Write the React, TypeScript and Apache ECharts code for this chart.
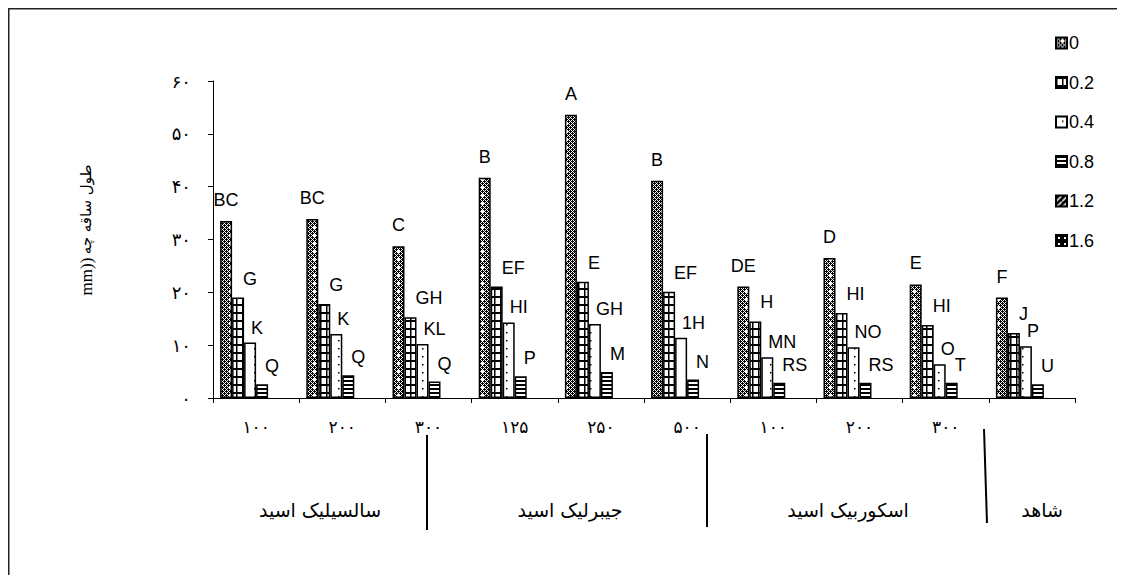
import React, { useEffect, useRef } from "react";
import * as echarts from "echarts";

const categories = ["۱۰۰", "۲۰۰", "۳۰۰", "۱۲۵", "۲۵۰", "۵۰۰", "۱۰۰", "۲۰۰", "۳۰۰", ""];
const seriesNames = ["0", "0.2", "0.4", "0.8", "1.2", "1.6"];
const values0 = [33.5, 33.9, 28.7, 41.7, 53.6, 41.1, 21.1, 26.5, 21.5, 19.0];
const values02 = [19.0, 17.8, 15.3, 21.1, 22.0, 20.1, 14.5, 16.1, 13.8, 12.3];
const values04 = [10.5, 12.1, 10.2, 14.3, 14.0, 11.4, 7.7, 9.6, 6.4, 9.8];
const values08 = [2.6, 4.3, 3.1, 4.1, 4.9, 3.5, 2.9, 2.9, 2.9, 2.6];
const values12: number[] = [];
const values16: number[] = [];
const letters0 = ["BC", "BC", "C", "B", "A", "B", "DE", "D", "E", "F"];
const letters02 = ["G", "G", "GH", "EF", "E", "EF", "H", "HI", "HI", "J"];
const letters04 = ["K", "K", "KL", "HI", "GH", "1H", "MN", "NO", "O", "P"];
const letters08 = ["Q", "Q", "Q", "P", "M", "N", "RS", "RS", "T", "U"];
const yTickLabels = ["۰", "۱۰", "۲۰", "۳۰", "۴۰", "۵۰", "۶۰"];
const groupNames = ["سالسیلیک اسید", "جیبرلیک اسید", "اسکوربیک اسید", "شاهد"];
const yTitleUnit = "mm))";
const yTitleText = "طول ساقه چه";

function makePattern(w: number, h: number, bg: string, draw: (ctx: CanvasRenderingContext2D) => void) {
  const c = document.createElement("canvas");
  c.width = w;
  c.height = h;
  const ctx = c.getContext("2d")!;
  ctx.fillStyle = bg;
  ctx.fillRect(0, 0, w, h);
  draw(ctx);
  return { image: c, repeat: "repeat" } as any;
}

const arabicFont = "DejaVu Sans, sans-serif";
const latinFont = "Liberation Sans, Arial, sans-serif";

export default function App() {
  const ref = useRef<HTMLDivElement>(null);
  useEffect(() => {
    if (!ref.current) return;
    const chart = echarts.init(ref.current, null, { renderer: "svg" });

    const p0 = makePattern(12, 8, "#fff", (ctx) => {
      ctx.fillStyle = "#000";
      for (let x = 0; x < 12; x++)
        for (let y = 0; y < 8; y++) if ((x + y) % 2 === 0 || (x % 2 === 0 && y % 2 === 1 && (x + y) % 4 === 1)) ctx.fillRect(x, y, 1, 1);
      ctx.fillStyle = "#fff";
      ctx.fillRect(5, 3, 3, 1);
      ctx.fillRect(6, 2, 1, 3);
    });
    const p02 = makePattern(6, 8, "#fff", (ctx) => {
      ctx.fillStyle = "#000";
      ctx.fillRect(0, 0, 6, 2);
      ctx.fillRect(0, 0, 1.5, 8);
    });
    const p04 = makePattern(12, 8, "#fff", (ctx) => {
      ctx.fillStyle = "#000";
      ctx.fillRect(6, 4, 1.5, 1.5);
    });
    const p08 = makePattern(2, 4, "#fff", (ctx) => {
      ctx.fillStyle = "#000";
      ctx.fillRect(0, 0, 2, 2);
    });
    const p12 = makePattern(6, 6, "#000", (ctx) => {
      ctx.strokeStyle = "#fff";
      ctx.lineWidth = 1.5;
      ctx.beginPath();
      ctx.moveTo(0, 6);
      ctx.lineTo(6, 0);
      ctx.stroke();
    });
    const p16 = makePattern(6, 6, "#000", (ctx) => {
      ctx.fillStyle = "#fff";
      ctx.fillRect(2, 2, 2, 2);
    });

    const labelBase = {
      show: true,
      position: "top",
      color: "#000",
      fontSize: 18,
      fontFamily: latinFont,
    };

    const mk = (name: string, data: number[], pattern: any, letters: string[], lab: any) => ({
      name,
      type: "bar",
      data,
      barWidth: 12,
      barGap: "0%",
      itemStyle: { color: pattern, borderColor: "#000", borderWidth: 1.5 },
      label: {
        ...labelBase,
        ...lab,
        formatter: (p: any) => letters[p.dataIndex] ?? "",
      },
    });

    const groupText = (x: number, text: string) => ({
      type: "text",
      x,
      y: 502,
      style: { text, fill: "#000", fontSize: 19, fontFamily: arabicFont, fontWeight: "normal", align: "center", verticalAlign: "middle" },
    });

    chart.setOption({
      animation: false,
      backgroundColor: "#fff",
      grid: { left: 205, right: 42, top: 73, bottom: 177 },
      legend: {
        orient: "vertical",
        left: 1042,
        top: 21,
        itemWidth: 11,
        itemHeight: 11,
        itemGap: 21.5,
        selectedMode: false,
        icon: "rect",
        data: seriesNames,
        textStyle: {
          fontSize: 18,
          lineHeight: 18,
          color: "#000",
          fontFamily: latinFont,
          padding: [0, 0, 0, -3],
        },
      },
      xAxis: {
        type: "category",
        data: categories,
        axisLine: { lineStyle: { color: "#000", width: 1 } },
        axisTick: { show: true, length: 5, inside: false, lineStyle: { color: "#000" } },
        axisLabel: {
          color: "#000",
          fontSize: 17,
          margin: 20,
          fontFamily: arabicFont,
        },
      },
      yAxis: {
        type: "value",
        min: 0,
        max: 60,
        interval: 10,
        splitLine: { show: false },
        axisLine: { show: true, lineStyle: { color: "#000", width: 1 } },
        axisTick: { show: true, length: 5, lineStyle: { color: "#000" } },
        axisLabel: {
          color: "#000",
          fontSize: 18,
          margin: 22,
          fontFamily: arabicFont,
          formatter: (v: number) => yTickLabels[Math.round(v / 10)] ?? "",
        },
      },
      series: [
        mk("0", values0, p0, letters0, { distance: 12 }),
        mk("0.2", values02, p02, letters02, { distance: 10, align: "left", offset: [5, 0] }),
        mk("0.4", values04, p04, letters04, { distance: 6, align: "left", offset: [1, 0] }),
        mk("0.8", values08, p08, letters08, { distance: 9, align: "left", offset: [3, 0] }),
        mk("1.2", values12, p12, [], { show: false }),
        mk("1.6", values16, p16, [], { show: false }),
      ],
      graphic: [
        { type: "line", shape: { x1: 0, y1: 0.75, x2: 1109, y2: 0.75 }, style: { stroke: "#222", lineWidth: 1.5 } },
        { type: "line", shape: { x1: 0.75, y1: 0, x2: 0.75, y2: 567 }, style: { stroke: "#222", lineWidth: 1.5 } },
        { type: "line", shape: { x1: 419, y1: 427, x2: 419, y2: 522 }, style: { stroke: "#000", lineWidth: 2 } },
        { type: "line", shape: { x1: 699, y1: 426, x2: 699, y2: 519 }, style: { stroke: "#000", lineWidth: 2 } },
        { type: "line", shape: { x1: 976, y1: 421, x2: 979, y2: 515 }, style: { stroke: "#000", lineWidth: 2 } },
        groupText(312, groupNames[0]),
        groupText(562, groupNames[1]),
        groupText(840, groupNames[2]),
        groupText(1034, groupNames[3]),
        {
          type: "text",
          x: 78,
          y: 222,
          rotation: Math.PI / 2,
          style: {
            text: "{u|" + yTitleUnit + "} {t|" + yTitleText + "}",
            fill: "#000",
            align: "center",
            verticalAlign: "middle",
            rich: {
              u: { fontSize: 17, fontFamily: "Liberation Serif, Times New Roman, serif", fill: "#000" },
              t: { fontSize: 15, fontFamily: arabicFont, fill: "#000" },
            },
          },
        },
      ],
    });
    return () => chart.dispose();
  }, []);
  return <div ref={ref} style={{ width: 1109, height: 567 }} />;
}
